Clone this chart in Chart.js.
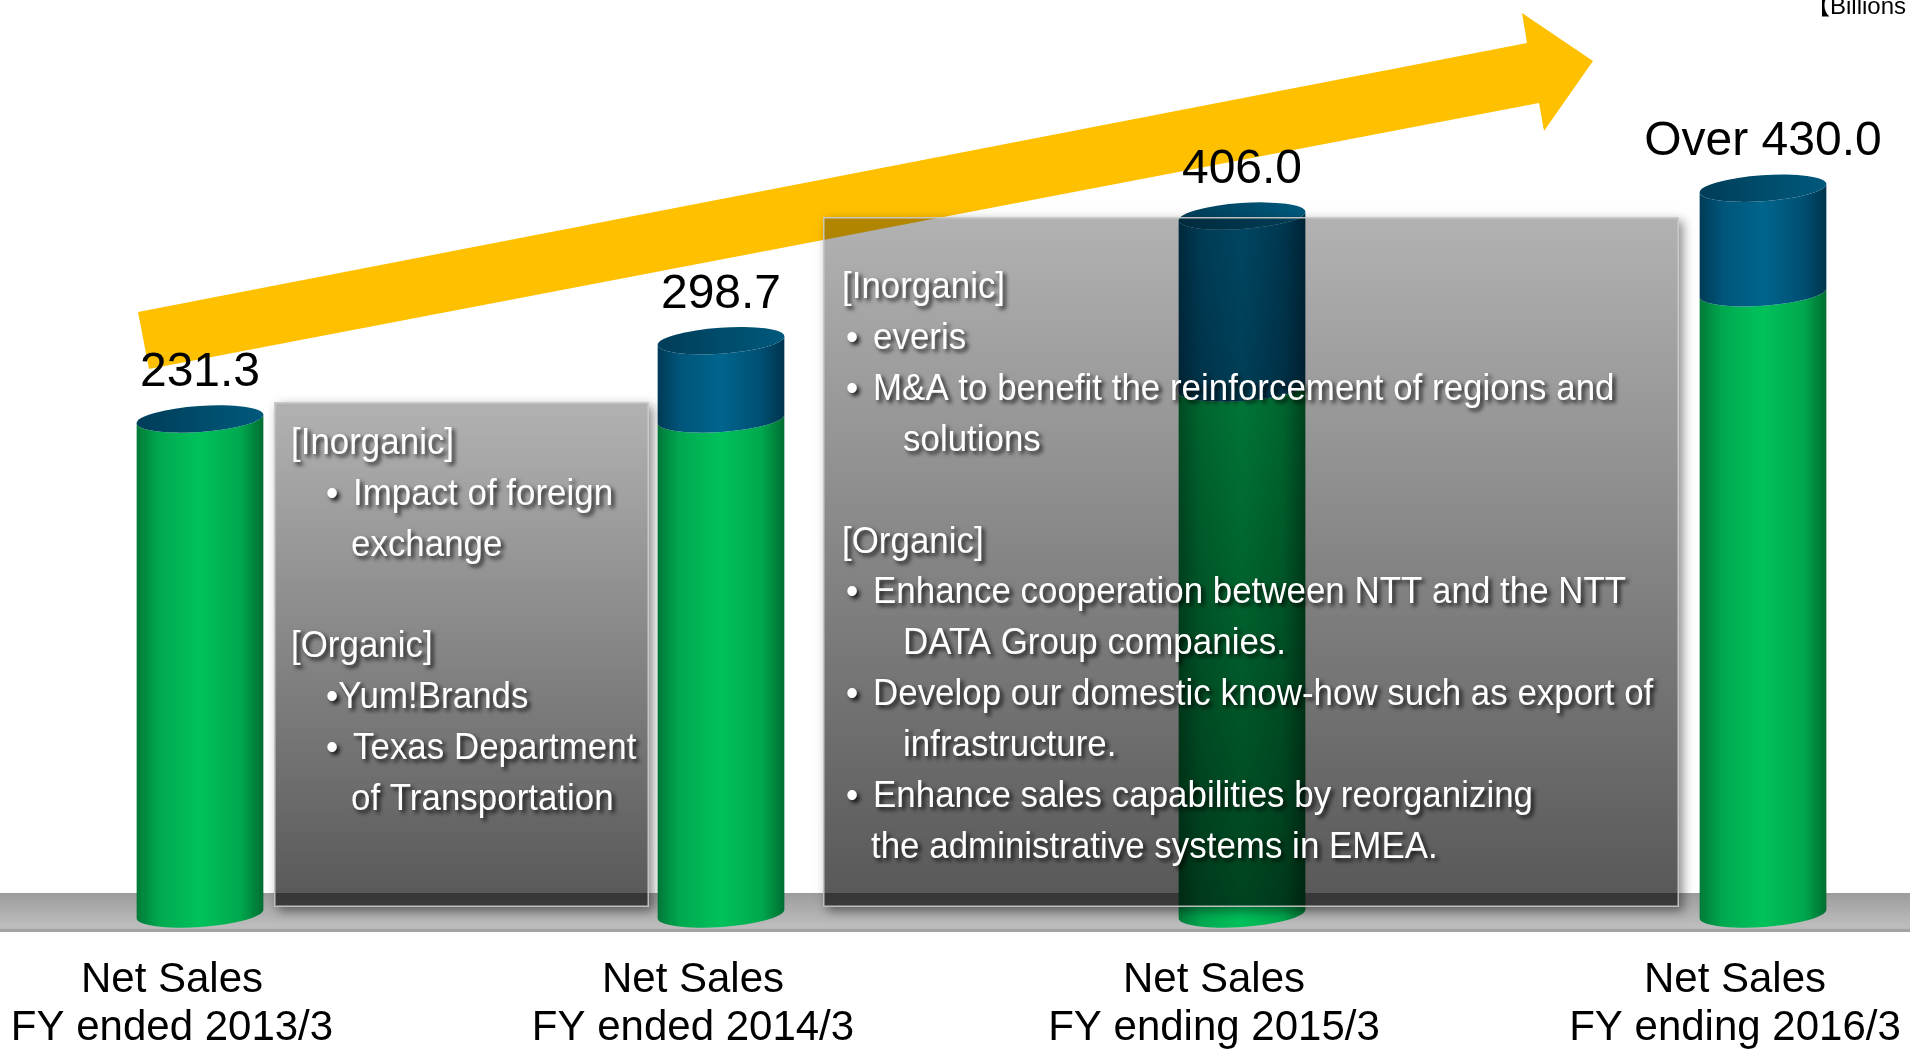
<!DOCTYPE html>
<html>
<head>
<meta charset="utf-8">
<title>Net Sales outlook</title>
<script src="https://cdn.jsdelivr.net/npm/chart.js@4.4.1/dist/chart.umd.min.js"></script>
<style>
  html, body { margin: 0; padding: 0; background: #fff; overflow: hidden; }
</style>
</head>
<body>
<canvas id="chart" width="1910" height="1051"></canvas>
<script>
// ── Data ─────────────────────────────────────────────────────────
const categories = [
  ["Net Sales", "FY ended 2013/3"],
  ["Net Sales", "FY ended 2014/3"],
  ["Net Sales", "FY ending 2015/3"],
  ["Net Sales", "FY ending 2016/3"],
];
const netSales    = [231.3, 298.7, 406.0, 430.0];
const valueLabels = ["231.3", "298.7", "406.0", "Over 430.0"];
// split of each bar (green = organic base, blue = added part)
const organic   = [231.3, 231.3, 258.0, 340.0];
const inorganic = [0, 67.4, 148.0, 90.0];
const unitLabel = "\u3010Billions of yen\u3011";

// the picture is a truncated axis: the floor sits well below zero
const AXIS_MIN = -195;
const AXIS_MAX = 580;

// text of the two note boxes; h = heading, b = bullet, bt = bullet without gap,
// c = continuation, ci = indented continuation, "" = empty line
const notes2014 = [
  ["h", "[Inorganic]"],
  ["b", "Impact of foreign"],
  ["c", "exchange"],
  ["", ""],
  ["h", "[Organic]"],
  ["bt", "Yum!Brands"],
  ["b", "Texas Department"],
  ["c", "of Transportation"],
];
const notes2015 = [
  ["h", "[Inorganic]"],
  ["b", "everis"],
  ["b", "M&A to benefit the reinforcement of regions and"],
  ["ci", "solutions"],
  ["", ""],
  ["h", "[Organic]"],
  ["b", "Enhance cooperation between NTT and the NTT"],
  ["ci", "DATA Group companies."],
  ["b", "Develop our domestic know-how such as export of"],
  ["ci", "infrastructure."],
  ["b", "Enhance sales capabilities by reorganizing"],
  ["c", "the administrative systems in EMEA."],
];

const FONT = "'Liberation Sans', Arial, 'Noto Sans CJK JP', sans-serif";

// ── Drawing helpers ──────────────────────────────────────────────
const GREEN = [[0, "#007a38"], [0.18, "#00a94f"], [0.5, "#00c25b"], [0.82, "#00a84d"], [1, "#006d31"]];
const BLUE  = [[0, "#003a56"], [0.18, "#00557a"], [0.5, "#00658d"], [0.82, "#004f72"], [1, "#00334c"]];
const RY = 13, ROT = -0.07;

function cylinderSide(ctx, cx, top, base, rx, stops) {
  const g = ctx.createLinearGradient(cx - rx, 0, cx + rx, 0);
  stops.forEach(([o, c]) => g.addColorStop(o, c));
  ctx.beginPath();
  ctx.ellipse(cx, base, rx, RY, ROT, 0, Math.PI, false);
  ctx.ellipse(cx, top, rx, RY, ROT, Math.PI, 0, true);
  ctx.closePath();
  ctx.fillStyle = g;
  ctx.fill();
}

function cylinderCap(ctx, cx, top, rx) {
  const g = ctx.createLinearGradient(cx - rx, 0, cx + rx, 0);
  g.addColorStop(0, "#003d58");
  g.addColorStop(0.5, "#004c6b");
  g.addColorStop(1, "#00597c");
  ctx.beginPath();
  ctx.ellipse(cx, top, rx, RY, ROT, 0, Math.PI * 2);
  ctx.fillStyle = g;
  ctx.fill();
}

function drawFloor(ctx, w) {
  const g = ctx.createLinearGradient(0, 893, 0, 932);
  g.addColorStop(0, "#9c9c9c");
  g.addColorStop(0.85, "#bdbdbd");
  g.addColorStop(1, "#b5b5b5");
  ctx.fillStyle = g;
  ctx.fillRect(0, 893, w, 39);
  ctx.fillStyle = "#a2a2a2";
  ctx.fillRect(0, 929, w, 3);
}

function drawArrow(ctx) {
  const pts = [[138, 312], [1527, 43], [1522, 13], [1593, 61], [1544, 131], [1539, 103], [149, 369]];
  ctx.beginPath();
  pts.forEach(([x, y], i) => (i ? ctx.lineTo(x, y) : ctx.moveTo(x, y)));
  ctx.closePath();
  ctx.fillStyle = "#ffc000";
  ctx.fill();
}

function drawBox(ctx, b, W, H) {
  // shadow outside the translucent panel only
  ctx.save();
  ctx.beginPath();
  ctx.rect(0, 0, W, H);
  ctx.rect(b.x, b.y, b.w, b.h);
  ctx.clip("evenodd");
  ctx.shadowColor = "rgba(0,0,0,0.45)";
  ctx.shadowBlur = 10;
  ctx.shadowOffsetX = 4;
  ctx.shadowOffsetY = 4;
  ctx.fillStyle = "#000";
  ctx.fillRect(b.x, b.y, b.w, b.h);
  ctx.restore();

  const g = ctx.createLinearGradient(0, b.y, 0, b.y + b.h);
  g.addColorStop(0, "rgba(0,0,0,0.30)");
  g.addColorStop(1, "rgba(0,0,0,0.66)");
  ctx.fillStyle = g;
  ctx.fillRect(b.x, b.y, b.w, b.h);
  ctx.strokeStyle = "rgba(205,205,205,0.9)";
  ctx.lineWidth = 1.5;
  ctx.strokeRect(b.x + 0.75, b.y + 0.75, b.w - 1.5, b.h - 1.5);

  // text
  ctx.save();
  ctx.font = `36px ${FONT}`;
  ctx.fillStyle = "#fff";
  ctx.textAlign = "left";
  ctx.textBaseline = "alphabetic";
  ctx.shadowColor = "rgba(0,0,0,0.8)";
  ctx.shadowBlur = 4;
  ctx.shadowOffsetX = 3;
  ctx.shadowOffsetY = 3;
  const put = (s, x, y) => {
    ctx.save();
    ctx.translate(x, y);
    ctx.scale(0.97, 1);
    ctx.fillText(s, 0, 0);
    ctx.restore();
  };
  b.lines.forEach(([kind, s], i) => {
    const y = b.firstBase + i * b.step;
    if (kind === "h") put(s, b.headX, y);
    else if (kind === "b") { put("\u2022", b.bulletX, y); put(s, b.textX, y); }
    else if (kind === "bt") { put("\u2022" + s, b.bulletX, y); }
    else if (kind === "c") put(s, b.textX - 2, y);
    else if (kind === "ci") put(s, b.textX + 30, y);
  });
  ctx.restore();
}

// ── Cylinders, arrow, panels and labels ──────────────────────────
const decorPlugin = {
  id: "decor",
  beforeDatasetsDraw(chart) {
    drawFloor(chart.ctx, chart.width);
  },
  afterDatasetsDraw(chart) {
    const ctx = chart.ctx;
    const low = chart.getDatasetMeta(0).data;
    const high = chart.getDatasetMeta(1).data;

    ctx.save();
    low.forEach((el, i) => {
      const { x, y, base, width } = el.getProps(["x", "y", "base", "width"], true);
      const rx = width / 2;
      cylinderSide(ctx, x, y, base, rx, GREEN);
      let top = y;
      const up = high[i].getProps(["y", "base"], true);
      if (up.base - up.y > 0.5) {
        cylinderSide(ctx, x, up.y, up.base, rx, BLUE);
        top = up.y;
      }
      cylinderCap(ctx, x, top, rx);
    });

    drawArrow(ctx);

    drawBox(ctx, {
      x: 274, y: 402, w: 375, h: 505, lines: notes2014,
      headX: 291, bulletX: 326, textX: 353, firstBase: 454, step: 50.8,
    }, chart.width, chart.height);
    drawBox(ctx, {
      x: 823, y: 217, w: 856, h: 690, lines: notes2015,
      headX: 842, bulletX: 846, textX: 873, firstBase: 298, step: 50.9,
    }, chart.width, chart.height);

    // value labels above each bar
    ctx.font = `48px ${FONT}`;
    ctx.fillStyle = "#000";
    ctx.textAlign = "center";
    ctx.textBaseline = "alphabetic";
    high.forEach((el, i) => {
      const { x, y } = el.getProps(["x", "y"], true);
      ctx.fillText(valueLabels[i], x, y - RY - 20);
    });

    ctx.font = `24px ${FONT}`;
    ctx.textAlign = "left";
    ctx.fillText(unitLabel, 1806, 14);
    ctx.restore();
  }
};

new Chart(document.getElementById("chart"), {
  type: "bar",
  data: {
    labels: categories,
    datasets: [
      { label: "Organic", data: organic, base: AXIS_MIN, backgroundColor: "rgba(0,0,0,0)", borderWidth: 0, stack: "s" },
      { label: "Inorganic", data: inorganic, backgroundColor: "rgba(0,0,0,0)", borderWidth: 0, stack: "s" },
    ]
  },
  plugins: [decorPlugin],
  options: {
    responsive: false,
    animation: false,
    devicePixelRatio: 1,
    categoryPercentage: 0.2438,
    barPercentage: 1,
    layout: { autoPadding: false, padding: { left: 200, right: 147, top: 14, bottom: 0 } },
    plugins: { legend: { display: false }, tooltip: { enabled: false } },
    scales: {
      x: {
        stacked: true,
        offset: false,
        grid: { display: false, drawTicks: false },
        border: { display: false },
        ticks: {
          color: "#000",
          font: { family: FONT, size: 42, lineHeight: 48 / 42 },
          padding: 42,
          labelOffset: -28,
          maxRotation: 0,
          autoSkip: false,
        },
        afterFit(scale) {
          scale.height = 137;
          scale.paddingLeft = 0;
          scale.paddingRight = 0;
        },
      },
      y: { stacked: true, display: false, min: AXIS_MIN, max: AXIS_MAX },
    }
  }
});
</script>
</body>
</html>
